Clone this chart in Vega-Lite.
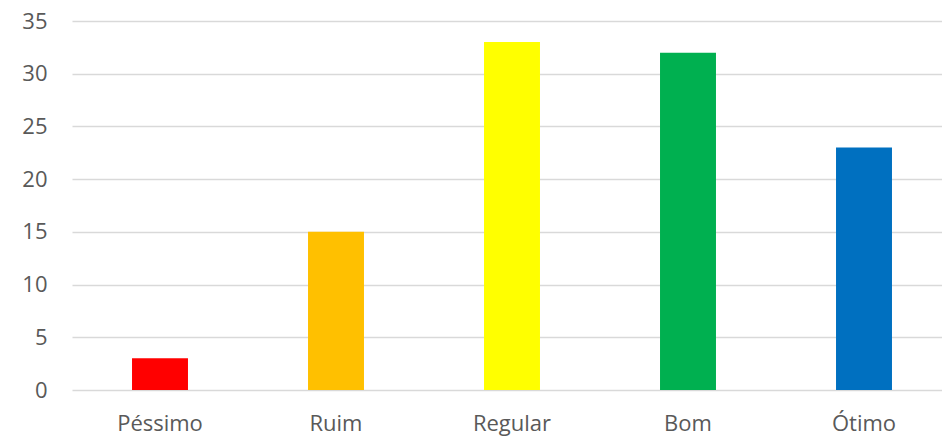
{
  "$schema": "https://vega.github.io/schema/vega-lite/v6.json",
  "width": 870,
  "height": 369,
  "autosize": "none",
  "padding": {"left": 72, "top": 21, "right": 0, "bottom": 47},
  "background": "white",
  "config": {"view": {"stroke": null}},
  "data": {"values": [
    {"cat": "Péssimo", "v": 3},
    {"cat": "Ruim", "v": 15},
    {"cat": "Regular", "v": 33},
    {"cat": "Bom", "v": 32},
    {"cat": "Ótimo", "v": 23}
  ]},
  "mark": {"type": "bar"},
  "encoding": {
    "x": {"field": "cat", "type": "nominal", "sort": null,
      "scale": {"range": [0, 880], "paddingInner": 0.682, "paddingOuter": 0.341},
      "axis": {"title": null, "labelAngle": 0, "domain": false, "ticks": false, "labelFont": "Open Sans", "labelFontSize": 22, "labelColor": "#595959", "labelPadding": 23}},
    "y": {"field": "v", "type": "quantitative",
      "scale": {"domain": [0, 35], "nice": false},
      "axis": {"title": null, "values": [0,5,10,15,20,25,30,35], "domain": false, "ticks": false, "gridColor": "#d9d9d9", "gridWidth": 1.5, "labelFont": "Open Sans", "labelFontSize": 22, "labelColor": "#595959", "labelPadding": 25}},
    "color": {"field": "cat", "type": "nominal", "legend": null,
      "scale": {"domain": ["Péssimo", "Ruim", "Regular", "Bom", "Ótimo"], "range": ["#FF0000", "#FFC000", "#FFFF00", "#00B050", "#0070C0"]}}
  }
}
